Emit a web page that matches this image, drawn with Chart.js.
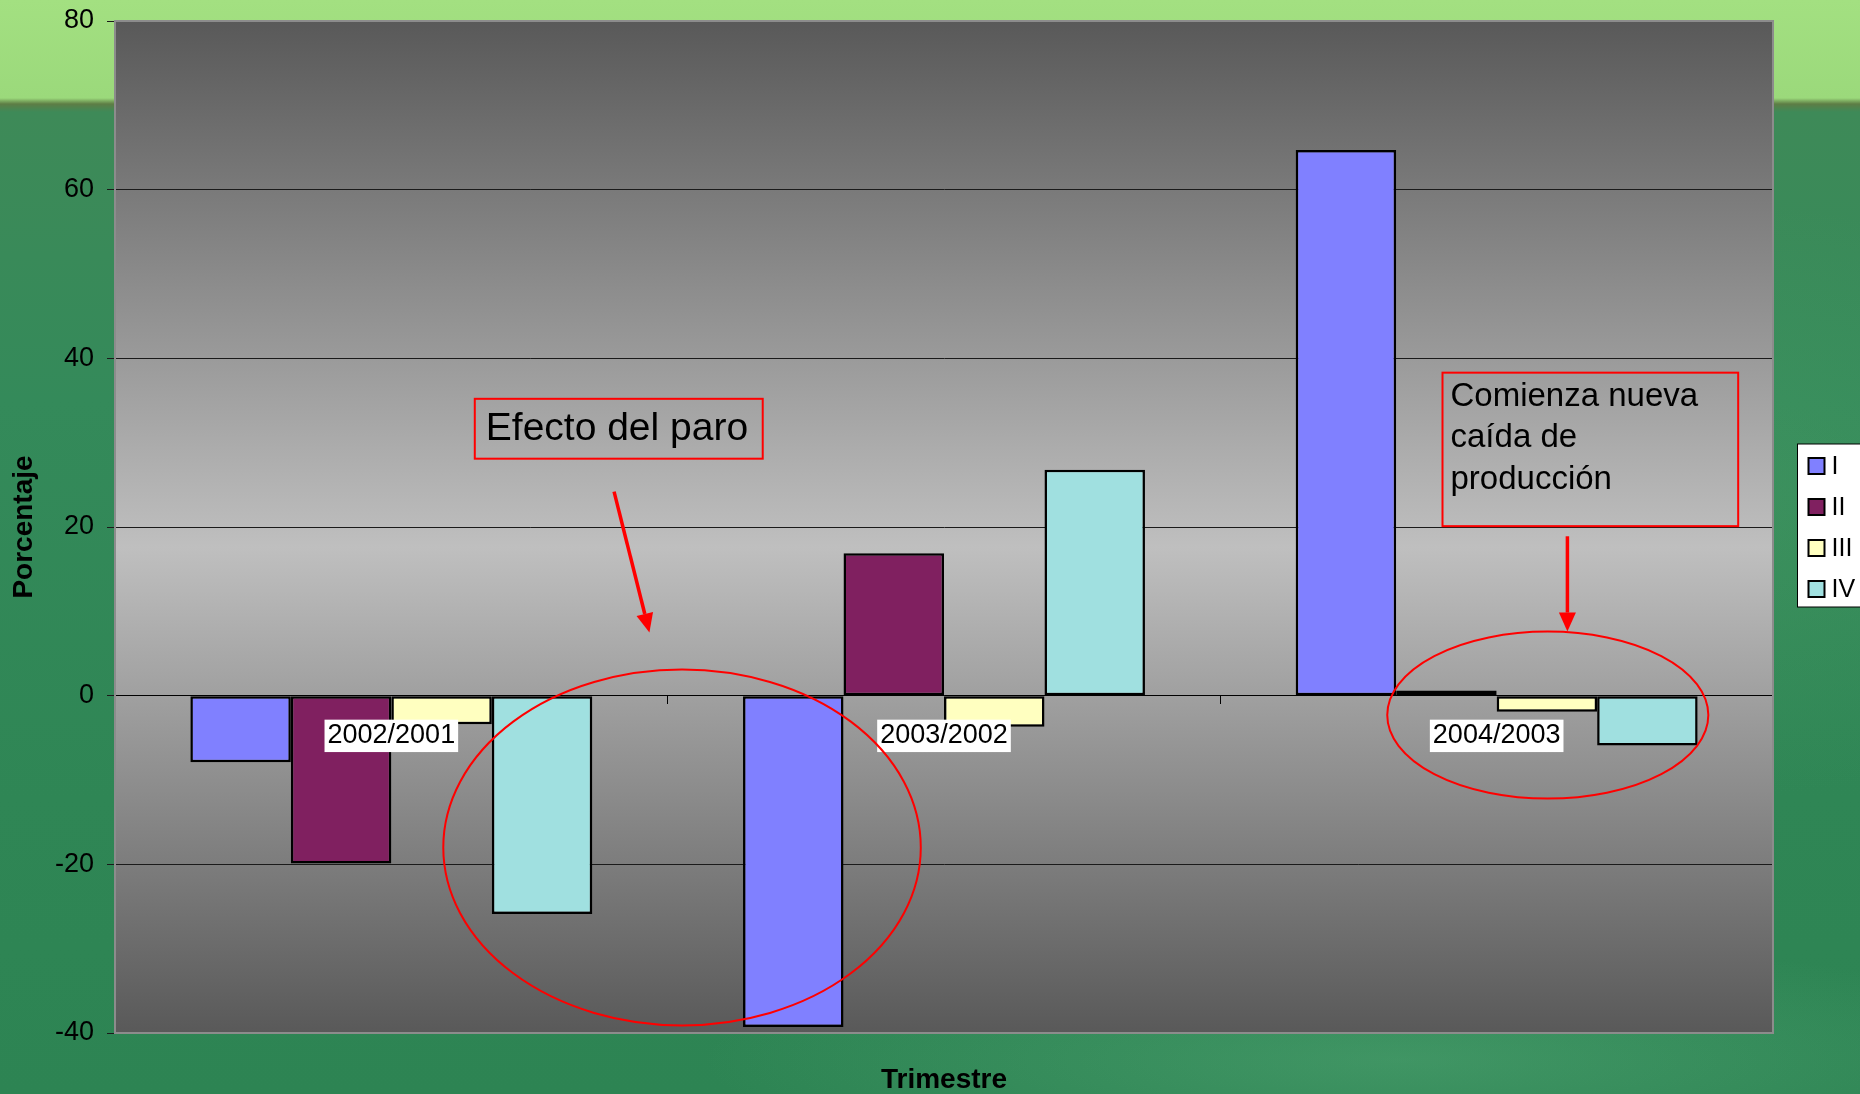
<!DOCTYPE html>
<html>
<head>
<meta charset="utf-8">
<script src="https://cdn.jsdelivr.net/npm/chart.js@4.4.1/dist/chart.umd.min.js"></script>
<style>
  html, body { margin: 0; padding: 0; overflow: hidden; }
  #fondo {
    width: 1860px; height: 1094px; position: relative;
    background:
      radial-gradient(ellipse 700px 120px at 1400px 1060px, rgba(120,200,150,0.25), rgba(0,0,0,0)),
      radial-gradient(ellipse 500px 300px at 1700px 500px, rgba(90,170,110,0.25), rgba(0,0,0,0)),
      linear-gradient(to bottom, #a3e081 0px, #9bd97b 98px, #5e7d45 104px, #3e8a58 112px, #348a5a 400px, #2f8655 800px, #2d8453 1094px);
  }
  canvas { position: absolute; left: 0; top: 0; }
</style>
</head>
<body>
<div id="fondo"><canvas id="chartTrimestre" width="1860" height="1094"></canvas></div>
<script>
// datos (variacion porcentual por trimestre)
const categorias = ['2002/2001', '2003/2002', '2004/2003'];
const trimestres = ['I', 'II', 'III', 'IV'];
const trimI = [-7.9, -39.3, 64.7];
const trimII = [-19.9, 16.9, 0.6];
const trimIII = [-3.4, -3.7, -1.9];
const trimIV = [-25.9, 26.8, -5.9];
const colores = ['#8080ff', '#802060', '#ffffc0', '#a0e0e0'];
const ticksY = { min: -40, max: 80, paso: 20 };

const fuente = "'Liberation Sans', Arial, sans-serif";
Chart.defaults.font.family = fuente;
Chart.defaults.color = '#000';

const series = [trimI, trimII, trimIII, trimIV];

const data = {
    labels: categorias,
    datasets: series.map((valores, i) => ({
        label: trimestres[i],
        data: valores,
        backgroundColor: colores[i],
        borderColor: '#000',
        borderWidth: 2.5,
        borderSkipped: false,
        categoryPercentage: 4 / 5.5,
        barPercentage: 1
    }))
};

// anotaciones en unidades de los ejes (x = indice de categoria, y = porcentaje)
const notas = [
    { tipo: 'caja', x0: 0.151, x1: 0.672, y0: 35.2, y1: 28.1, lineas: ['Efecto del paro'], tam: 39, dx: 11, dy: 41, paso: 0 },
    { tipo: 'caja', x0: 1.902, x1: 2.437, y0: 38.3, y1: 20.1, lineas: ['Comienza nueva', 'caída de', 'producción'], tam: 33, dx: 8, dy: 33.5, paso: 41.3 },
    { tipo: 'flecha', x0: 0.403, y0: 24.2, x1: 0.467, y1: 7.5 },
    { tipo: 'flecha', x0: 2.128, y0: 18.9, x1: 2.128, y1: 7.6 },
    { tipo: 'elipse', cx: 0.526, cy: -18.0, rx: 0.432, ry: 21.1 },
    { tipo: 'elipse', cx: 2.0925, cy: -2.3, rx: 0.2905, ry: 9.9 }
];

const fondoPlot = {
    id: 'fondoPlot',
    beforeDraw(chart) {
        const { ctx, chartArea: a } = chart;
        const g = ctx.createLinearGradient(0, a.top, 0, a.bottom);
        g.addColorStop(0, '#595959');
        g.addColorStop(0.52, '#bfbfbf');
        g.addColorStop(1, '#595959');
        ctx.save();
        ctx.fillStyle = g;
        ctx.fillRect(a.left, a.top, a.right - a.left, a.bottom - a.top);
        ctx.restore();
    },
    afterDatasetsDraw(chart) {
        const { ctx, chartArea: a } = chart;
        ctx.save();
        ctx.strokeStyle = '#8c8c8c';
        ctx.lineWidth = 2;
        ctx.strokeRect(a.left, a.top, a.right - a.left, a.bottom - a.top);
        ctx.restore();
    }
};

const anotaciones = {
    id: 'anotaciones',
    afterDraw(chart) {
        const { ctx } = chart;
        const X = v => chart.scales.x.getPixelForValue(v);
        const Y = v => chart.scales.y.getPixelForValue(v);
        ctx.save();
        ctx.strokeStyle = '#ff0000';
        ctx.fillStyle = '#ff0000';
        notas.forEach(n => {
            if (n.tipo === 'caja') {
                const l = X(n.x0), t = Y(n.y0), r = X(n.x1), b = Y(n.y1);
                ctx.lineWidth = 2;
                ctx.strokeRect(l, t, r - l, b - t);
                ctx.fillStyle = '#000';
                ctx.font = n.tam + 'px ' + fuente;
                ctx.textBaseline = 'alphabetic';
                ctx.textAlign = 'left';
                n.lineas.forEach((txt, k) => ctx.fillText(txt, l + n.dx, t + n.dy + k * n.paso));
                ctx.fillStyle = '#ff0000';
            } else if (n.tipo === 'flecha') {
                const x0 = X(n.x0), y0 = Y(n.y0), x1 = X(n.x1), y1 = Y(n.y1);
                const ang = Math.atan2(y1 - y0, x1 - x0);
                const largo = 19, ancho = 8.5;
                const bx = x1 - largo * Math.cos(ang), by = y1 - largo * Math.sin(ang);
                ctx.lineWidth = 3.5;
                ctx.beginPath();
                ctx.moveTo(x0, y0);
                ctx.lineTo(bx, by);
                ctx.stroke();
                ctx.beginPath();
                ctx.moveTo(x1, y1);
                ctx.lineTo(bx + ancho * Math.sin(ang), by - ancho * Math.cos(ang));
                ctx.lineTo(bx - ancho * Math.sin(ang), by + ancho * Math.cos(ang));
                ctx.closePath();
                ctx.fill();
            } else if (n.tipo === 'elipse') {
                const cx = X(n.cx), cy = Y(n.cy);
                const rx = Math.abs(X(n.cx + n.rx) - cx), ry = Math.abs(Y(n.cy + n.ry) - cy);
                ctx.lineWidth = 2;
                ctx.beginPath();
                ctx.ellipse(cx, cy, rx, ry, 0, 0, Math.PI * 2);
                ctx.stroke();
            }
        });
        ctx.restore();
    }
};

const leyenda = {
    id: 'leyenda',
    afterDraw(chart) {
        const { ctx, chartArea: a } = chart;
        const left = a.right + 24.5;
        const top = (a.top + a.bottom) / 2 - 83;
        ctx.save();
        ctx.fillStyle = '#fff';
        ctx.fillRect(left, top, 90, 163);
        ctx.strokeStyle = '#000';
        ctx.lineWidth = 1;
        ctx.strokeRect(left, top, 90, 163);
        ctx.font = '25px ' + fuente;
        ctx.textBaseline = 'middle';
        chart.data.datasets.forEach((ds, i) => {
            const cy = top + 22 + i * 41;
            ctx.fillStyle = ds.backgroundColor;
            ctx.fillRect(left + 11, cy - 8, 16, 16);
            ctx.lineWidth = 2;
            ctx.strokeStyle = '#000';
            ctx.strokeRect(left + 11, cy - 8, 16, 16);
            ctx.fillStyle = '#000';
            ctx.fillText(ds.label, left + 34, cy + 1);
        });
        ctx.restore();
    }
};

const canvas = document.getElementById('chartTrimestre');
const chartTrimestre = new Chart(canvas.getContext('2d'), {
    type: 'bar',
    data: data,
    options: {
        responsive: false,
        animation: false,
        layout: { padding: { top: 21, right: 87, bottom: 0, left: 0 } },
        plugins: {
            legend: { display: false },
            tooltip: { enabled: false },
            title: {
                display: true,
                position: 'bottom',
                fullSize: false,
                text: 'Trimestre',
                color: '#000',
                font: { size: 28, weight: 'bold', lineHeight: 1 },
                padding: { top: 33, bottom: 0 }
            }
        },
        scales: {
            x: {
                position: { y: 0 },
                grid: { drawOnChartArea: false, drawTicks: true, tickLength: 8, color: '#000', offset: true },
                border: { display: true, color: '#000', width: 1 },
                ticks: {
                    z: 1,
                    padding: 16,
                    color: '#000',
                    font: { size: 27 },
                    showLabelBackdrop: true,
                    backdropColor: '#ffffff',
                    backdropPadding: { left: 3, right: 3, top: 0, bottom: 0 }
                }
            },
            y: {
                min: ticksY.min,
                max: ticksY.max,
                afterFit: s => { s.width = 115; s.paddingTop = 0; s.paddingBottom = 0; },
                grid: { color: '#1a1a1a', lineWidth: 1, drawTicks: true, tickLength: 8 },
                border: { display: true, color: '#000', width: 1 },
                ticks: { stepSize: ticksY.paso, padding: 13, color: '#000', font: { size: 27 } },
                title: {
                    display: true,
                    text: 'Porcentaje',
                    color: '#000',
                    font: { size: 28, weight: 'bold' },
                    padding: { top: 7, bottom: 0 }
                }
            }
        }
    },
    plugins: [fondoPlot, anotaciones, leyenda]
});
</script>
</body>
</html>
